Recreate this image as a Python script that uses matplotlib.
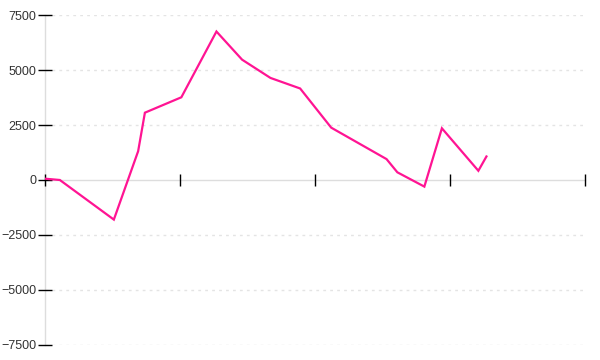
import numpy as np
import matplotlib.pyplot as plt

# x in days (axis 0..400, unlabeled ticks every 100), y in value units
days = [0, 11, 51, 69, 74, 101, 127, 146, 167, 189, 212, 253, 261, 281, 294, 321, 327]
values = [60, 0, -1800, 1310, 3060, 3760, 6750, 5470, 4640, 4160, 2380, 950, 350, -300, 2350, 420, 1070]
yticks = [-7500, -5000, -2500, 0, 2500, 5000, 7500]
xticks = [0, 100, 200, 300, 400]

plt.rcParams['font.family'] = ['Liberation Sans', 'DejaVu Sans']

fig = plt.figure(figsize=(6, 3.6), dpi=100)
ax = fig.add_axes([0.075, 0.0417, 0.9, 0.9166])

ax.plot(days, values, color='#ff1493', linewidth=1.6, solid_joinstyle='miter', zorder=3)

ax.set_xlim(0, 400)
ax.set_ylim(-7500, 7500)
ax.set_yticks(yticks)
ax.set_xticks(xticks)
ax.set_xticklabels([])
ax.set_yticklabels([str(t).replace('-', '\u2212') for t in yticks])

for t in yticks:
    if t != 0:
        ax.axhline(t, color='#e4e4e4', linewidth=1, linestyle=(0, (2, 3)), zorder=0)

for s in ['top', 'right']:
    ax.spines[s].set_visible(False)
ax.spines['bottom'].set_position(('data', 0))
for s in ['bottom', 'left']:
    ax.spines[s].set_color('#dddddd')
    ax.spines[s].set_linewidth(1)
    ax.spines[s].set_zorder(1)

ax.tick_params(axis='x', direction='inout', length=9, width=1, color='black')
ax.tick_params(axis='y', direction='inout', length=10, width=1, color='black',
               labelsize=9, labelcolor='#333333', pad=1)

fig.savefig('out.png', dpi=100)
